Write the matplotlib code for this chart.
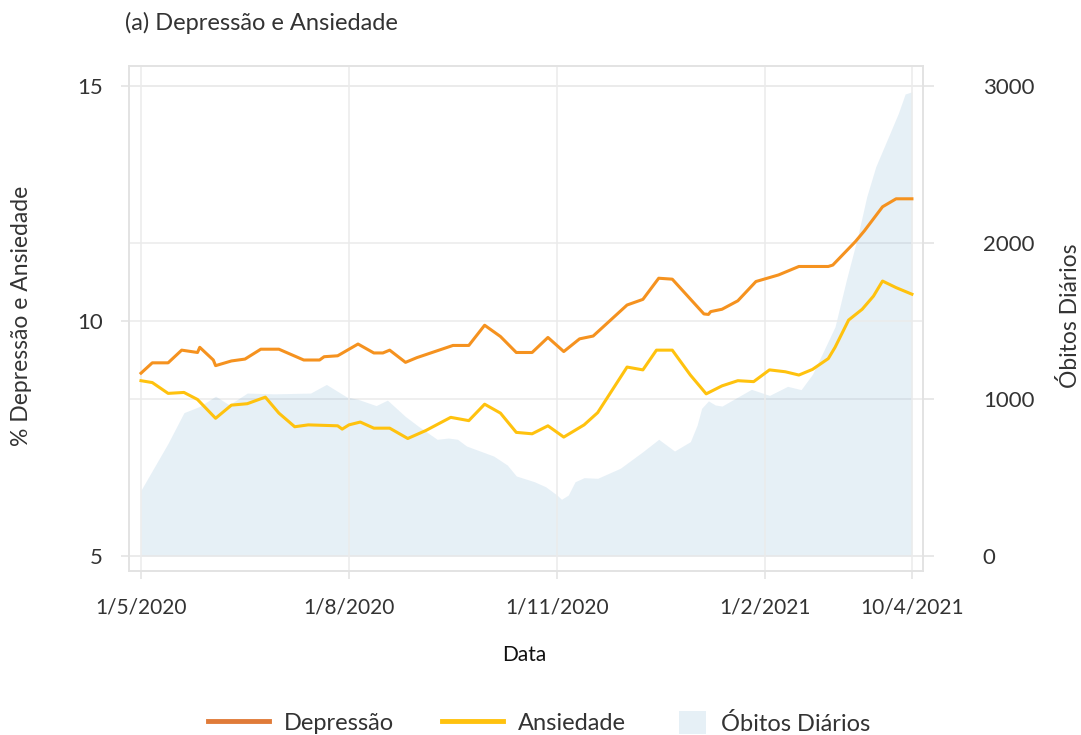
import matplotlib
matplotlib.use("Agg")
import matplotlib.pyplot as plt
from matplotlib.lines import Line2D
from matplotlib.patches import Patch
import pandas as pd

plt.rcParams['font.family'] = ['Lato', 'DejaVu Sans']

# ---------------- data ----------------
dep_dates = ['2020-05-01', '2020-05-06', '2020-05-13', '2020-05-19', '2020-05-26', '2020-05-27',
             '2020-06-02', '2020-06-03', '2020-06-10', '2020-06-16', '2020-06-23', '2020-07-01',
             '2020-07-12', '2020-07-19', '2020-07-21', '2020-07-27', '2020-08-05', '2020-08-12',
             '2020-08-16', '2020-08-19', '2020-08-26', '2020-08-31', '2020-09-16', '2020-09-23',
             '2020-09-30', '2020-10-07', '2020-10-14', '2020-10-21', '2020-10-28', '2020-11-04',
             '2020-11-11', '2020-11-17', '2020-12-02', '2020-12-09', '2020-12-16', '2020-12-22',
             '2021-01-05', '2021-01-07', '2021-01-08', '2021-01-13', '2021-01-20', '2021-01-28',
             '2021-02-07', '2021-02-16', '2021-03-01', '2021-03-03', '2021-03-13', '2021-03-17',
             '2021-03-25', '2021-03-31', '2021-04-07']
depressao = [8.89, 9.11, 9.11, 9.38, 9.33, 9.44,
             9.17, 9.05, 9.15, 9.19, 9.40, 9.40,
             9.17, 9.17, 9.24, 9.26, 9.51, 9.32,
             9.32, 9.38, 9.12, 9.22, 9.48, 9.48,
             9.91, 9.67, 9.33, 9.33, 9.65, 9.35,
             9.62, 9.68, 10.34, 10.46, 10.91, 10.89,
             10.15, 10.14, 10.20, 10.25, 10.43, 10.84,
             10.98, 11.16, 11.16, 11.19, 11.69, 11.92,
             12.43, 12.60, 12.60]

ans_dates = ['2020-05-01', '2020-05-06', '2020-05-13', '2020-05-20', '2020-05-26', '2020-06-03',
             '2020-06-10', '2020-06-17', '2020-06-25', '2020-07-01', '2020-07-08', '2020-07-14',
             '2020-07-27', '2020-07-29', '2020-08-01', '2020-08-06', '2020-08-12', '2020-08-19',
             '2020-08-27', '2020-09-04', '2020-09-15', '2020-09-23', '2020-09-30', '2020-10-07',
             '2020-10-14', '2020-10-21', '2020-10-28', '2020-11-04', '2020-11-13', '2020-11-19',
             '2020-12-02', '2020-12-09', '2020-12-15', '2020-12-22', '2020-12-30', '2021-01-06',
             '2021-01-13', '2021-01-20', '2021-01-27', '2021-02-03', '2021-02-10', '2021-02-16',
             '2021-02-22', '2021-03-01', '2021-03-04', '2021-03-10', '2021-03-16', '2021-03-21',
             '2021-03-25', '2021-03-31', '2021-04-07']
ansiedade = [8.73, 8.69, 8.46, 8.48, 8.33, 7.93,
             8.21, 8.24, 8.38, 8.04, 7.75, 7.79,
             7.77, 7.70, 7.79, 7.85, 7.72, 7.72,
             7.50, 7.67, 7.95, 7.88, 8.23, 8.04,
             7.63, 7.60, 7.77, 7.53, 7.79, 8.05,
             9.02, 8.96, 9.38, 9.38, 8.85, 8.45,
             8.62, 8.73, 8.71, 8.96, 8.92, 8.85,
             8.97, 9.20, 9.44, 10.02, 10.25, 10.53,
             10.85, 10.71, 10.57]

ob_dates = ['2020-05-01', '2020-05-13', '2020-05-20', '2020-05-27', '2020-06-03', '2020-06-09',
            '2020-06-17', '2020-06-29', '2020-07-15', '2020-07-22', '2020-07-31', '2020-08-05',
            '2020-08-13', '2020-08-18', '2020-08-26', '2020-09-01', '2020-09-09', '2020-09-14',
            '2020-09-18', '2020-09-22', '2020-10-04', '2020-10-10', '2020-10-14', '2020-10-22',
            '2020-10-27', '2020-11-01', '2020-11-03', '2020-11-06', '2020-11-09', '2020-11-13',
            '2020-11-19', '2020-11-29', '2020-12-09', '2020-12-16', '2020-12-23', '2020-12-30',
            '2021-01-02', '2021-01-04', '2021-01-07', '2021-01-10', '2021-01-13', '2021-01-26',
            '2021-02-03', '2021-02-11', '2021-02-17', '2021-02-22', '2021-02-26', '2021-03-04',
            '2021-03-09', '2021-03-14', '2021-03-18', '2021-03-22', '2021-03-27', '2021-04-01',
            '2021-04-04', '2021-04-07']
obitos = [420, 720, 915, 955, 1020, 965,
          1040, 1035, 1040, 1095, 1015, 1000,
          960, 995, 890, 825, 745, 753,
          745, 702, 638, 581, 511, 474,
          442, 389, 362, 389, 474, 500,
          496, 560, 666, 745, 670, 730,
          836, 943, 990, 964, 957, 1064,
          1025, 1083, 1062, 1160, 1280, 1464,
          1762, 2038, 2293, 2485, 2655, 2826,
          2949, 2963]

tick_dates = ['2020-05-01', '2020-08-01', '2020-11-01', '2021-02-01', '2021-04-07']
tick_labels = ['1/5/2020', '1/8/2020', '1/11/2020', '1/2/2021', '10/4/2021']
left_ticks = [5, 10, 15]
right_ticks = [0, 1000, 2000, 3000]

# ---------------- figure ----------------
W, H = 1081, 735
fig = plt.figure(figsize=(W / 100, H / 100), dpi=100)
ax = fig.add_axes([129 / W, 1 - 571 / H, (923 - 129) / W, (571 - 66) / H])
ax2 = ax.twinx()

GRID = '#ebebeb'
FRAME = '#e2e2e2'
TXT = '#333333'

d_dep = pd.to_datetime(dep_dates)
d_ans = pd.to_datetime(ans_dates)
d_ob = pd.to_datetime(ob_dates)

ax2.fill_between(d_ob, obitos, 0, color='#1f77b4', alpha=0.11, lw=0, zorder=2)
ax.plot(d_dep, depressao, color='#F5921F', lw=2.2, zorder=4, solid_joinstyle='round')
ax.plot(d_ans, ansiedade, color='#FFC20E', lw=2.2, zorder=4, solid_joinstyle='round')

ax.set_zorder(ax2.get_zorder() + 1)
ax.patch.set_visible(False)

start = pd.Timestamp('2020-05-01')
ax.set_xlim(start - pd.Timedelta(days=5.3), start + pd.Timedelta(days=345.9))
ax.set_ylim(5 - 15 / 47, 15 + 20 / 47)
ax2.set_ylim(-15 / 0.15667, 3000 + 20 / 0.15667)

ax.set_xticks(pd.to_datetime(tick_dates))
ax.set_xticklabels(tick_labels)
ax.set_yticks(left_ticks)
ax.set_yticklabels([str(v) for v in left_ticks])
ax2.set_yticks(right_ticks)
ax2.set_yticklabels([str(v) for v in right_ticks])

ax.grid(True, color=GRID, lw=1.1, zorder=0)
ax2.grid(True, axis='y', color=GRID, lw=1.1, zorder=0)
ax2.set_axisbelow(True)

for a in (ax, ax2):
    for s in a.spines.values():
        s.set_color(FRAME)
        s.set_linewidth(1.1)

ax.tick_params(axis='x', length=6, width=1.1, color=FRAME, labelsize=15, labelcolor=TXT, pad=13)
ax.tick_params(axis='y', length=6, width=1.1, color=FRAME, labelsize=16, labelcolor=TXT, pad=13)
ax2.tick_params(axis='y', length=8, width=1.1, color=FRAME, labelsize=16, labelcolor=TXT, pad=35)

fig.text(125 / W, 1 - 23 / H, '(a) Depressão e Ansiedade', fontsize=17, color=TXT,
         ha='left', va='center')
fig.text(22 / W, 1 - 316 / H, '% Depressão e Ansiedade', fontsize=16.5, color=TXT,
         rotation=90, ha='center', va='center')
fig.text(1070 / W, 1 - 316 / H, 'Óbitos Diários', fontsize=16.5, color=TXT,
         rotation=90, ha='center', va='center')
fig.text(524 / W, 1 - 655 / H, 'Data', fontsize=15, color='#111111', ha='center', va='center')

h1 = [Line2D([0], [0], color='#E07B39', lw=3.5), Line2D([0], [0], color='#FFC20E', lw=3.5)]
leg1 = fig.legend(h1, ['Depressão', 'Ansiedade'], loc='center', ncol=2,
                  bbox_to_anchor=(417 / W, 1 - 723 / H), frameon=False, fontsize=17,
                  handlelength=2.58, handletextpad=0.64, columnspacing=2.0, borderpad=0,
                  labelcolor=TXT)
leg2 = fig.legend([Patch(facecolor='#1f77b4', alpha=0.11, lw=0)], ['Óbitos Diários'],
                  loc='center', bbox_to_anchor=(775 / W, 1 - 723 / H), frameon=False,
                  fontsize=17, handlelength=1.14, handleheight=1.14, handletextpad=0.64,
                  borderpad=0, labelcolor=TXT)

fig.savefig('out.png', dpi=100)
